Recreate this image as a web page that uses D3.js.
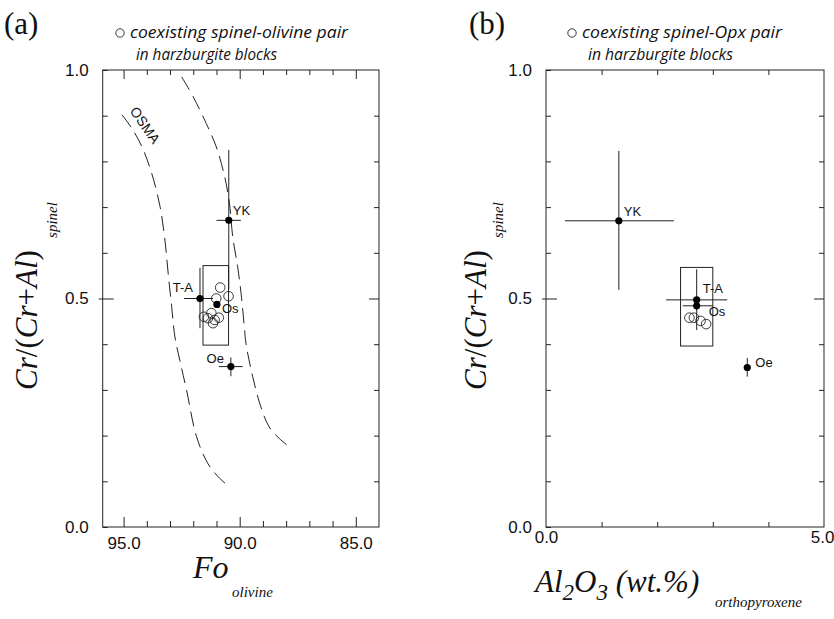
<!DOCTYPE html>
<html>
<head>
<meta charset="utf-8">
<script src="https://cdn.jsdelivr.net/npm/d3@7"></script>
<style>
  body { margin: 0; background: #fff; }
  svg { display: block; }
</style>
</head>
<body>
<svg id="chart" width="834" height="619"></svg>
<script>
// shared y axis: Cr/(Cr+Al) spinel
const crTicks = [0, 0.1, 0.2, 0.3, 0.4, 0.5, 0.6, 0.7, 0.8, 0.9, 1.0];
const crLabels = [0, 0.5, 1];

// panel (a) axis: Fo olivine
const foTicks = [95, 94, 93, 92, 91, 90, 89, 88, 87, 86, 85];
const foMajor = [95, 90, 85];

// panel (b) axis: Al2O3 opx
const alTicks = [1, 2, 3, 4];
const alLabels = [0, 5];

// panel (a) localities
const sitesA = ['YK', 'T-A', 'Os', 'Oe'];
const foA = [90.47, 91.71, 90.98, 90.38];
const crA = [0.671, 0.500, 0.487, 0.351];
const foErrA = [[91.0, 89.95], [92.4, 91.15], null, [90.9, 89.87]];
const crErrA = [[0.52, 0.825], [0.435, 0.567], null, [0.330, 0.371]];
const boxFoA = [91.58, 90.48];
const boxCrA = [0.398, 0.572];

// panel (a) spinel-olivine pairs
const pairFo = [90.84, 90.48, 91.01, 91.54, 91.22, 91.08, 90.90, 91.37, 91.15];
const pairCrA = [0.524, 0.505, 0.500, 0.460, 0.468, 0.453, 0.458, 0.457, 0.446];

// OSMA band (dashed)
const osmaInFo = [95.07, 94.64, 94.21, 93.79, 93.43, 93.22, 93.08, 92.93, 92.79, 92.58, 92.29, 91.86, 91.37, 90.87, 90.44];
const osmaInCr = [0.902, 0.872, 0.832, 0.774, 0.701, 0.628, 0.555, 0.482, 0.416, 0.365, 0.300, 0.198, 0.139, 0.107, 0.088];
const osmaOutFo = [92.50, 92.01, 91.44, 91.01, 90.65, 90.44, 90.30, 90.09, 89.94, 89.80, 89.73, 89.44, 89.09, 88.73, 88.30, 87.88];
const osmaOutCr = [0.985, 0.942, 0.883, 0.832, 0.767, 0.708, 0.635, 0.570, 0.511, 0.438, 0.402, 0.329, 0.263, 0.219, 0.194, 0.176];

// panel (b) localities
const sitesB = ['YK', 'T-A', 'Os', 'Oe'];
const alB = [1.31, 2.71, 2.71, 3.62];
const crB = [0.670, 0.497, 0.484, 0.349];
const alErrB = [[0.34, 2.30], [2.16, 3.26], [2.46, 3.0], null];
const crErrB = [[0.519, 0.823], [0.431, 0.564], null, [0.329, 0.370]];
const boxAlB = [2.42, 3.0];
const boxCrB = [0.396, 0.568];

// panel (b) spinel-opx pairs
const pairAl = [2.58, 2.66, 2.78, 2.88];
const pairCrB = [0.458, 0.458, 0.451, 0.444];

const svg = d3.select('#chart');
const sans = "'Liberation Sans', Arial, sans-serif";
const serif = "'Liberation Serif', 'Times New Roman', serif";
const ink = '#222';

const y = d3.scaleLinear().domain([0, 1]).range([527, 70]);
const xA = d3.scaleLinear().domain([95.9, 84.0]).range([102.7, 379]);
const xB = d3.scaleLinear().domain([0, 5]).range([546, 824]);

function frame(g, x) {
	const [x0, x1] = x.range();
	g.append('rect')
		.attr('x', x0).attr('y', y(1))
		.attr('width', x1 - x0).attr('height', y(0) - y(1))
		.attr('fill', 'none').attr('stroke', ink).attr('stroke-width', 1);
}

function styleAxis(a) {
	a.select('.domain').remove();
	a.selectAll('line').attr('stroke', ink);
	a.selectAll('text').attr('fill', '#111').style('font-family', sans).style('font-size', '17px');
}

function yAxes(g, x) {
	const [x0, x1] = x.range();
	const left = g.append('g').attr('transform', `translate(${x0},0)`)
		.call(d3.axisLeft(y).tickValues(crTicks).tickSize(-5).tickPadding(14)
			.tickFormat(d => crLabels.includes(d) ? d3.format('.1f')(d) : ''));
	left.selectAll('.tick').filter(d => d === 0.5).select('line').attr('x1', -4).attr('x2', 11);
	styleAxis(left);
	const right = g.append('g').attr('transform', `translate(${x1},0)`)
		.call(d3.axisRight(y).tickValues(crTicks.filter(d => d > 0 && d < 1)).tickSize(-5).tickFormat(''));
	right.selectAll('.tick').filter(d => d === 0.5).select('line').attr('x2', -10);
	styleAxis(right);
}

function marks(g, x, xs, ys, xErr, yErr, names, offs) {
	xs.forEach((v, i) => {
		if (xErr[i]) g.append('line')
			.attr('x1', x(xErr[i][0])).attr('x2', x(xErr[i][1]))
			.attr('y1', y(ys[i])).attr('y2', y(ys[i]))
			.attr('stroke', ink).attr('stroke-width', 1);
		if (yErr[i]) g.append('line')
			.attr('x1', x(v)).attr('x2', x(v))
			.attr('y1', y(yErr[i][0])).attr('y2', y(yErr[i][1]))
			.attr('stroke', ink).attr('stroke-width', 1);
	});
	g.selectAll('.site').data(xs).enter().append('circle')
		.attr('cx', d => x(d)).attr('cy', (d, i) => y(ys[i]))
		.attr('r', 3.6).attr('fill', '#000');
	g.selectAll('.siteLabel').data(names).enter().append('text')
		.attr('x', (d, i) => x(xs[i]) + offs[i][0])
		.attr('y', (d, i) => y(ys[i]) + offs[i][1])
		.attr('text-anchor', (d, i) => offs[i][2] || 'start')
		.style('font-family', sans).style('font-size', '13px').attr('fill', '#111')
		.text(d => d);
}

function pairs(g, x, xs, ys) {
	g.selectAll('.pair').data(xs).enter().append('circle')
		.attr('cx', d => x(d)).attr('cy', (d, i) => y(ys[i]))
		.attr('r', 4.8).attr('fill', 'none').attr('stroke', ink).attr('stroke-width', 0.9);
}

function box(g, x, bx, by) {
	g.append('rect')
		.attr('x', Math.min(x(bx[0]), x(bx[1]))).attr('y', y(by[1]))
		.attr('width', Math.abs(x(bx[1]) - x(bx[0]))).attr('height', y(by[0]) - y(by[1]))
		.attr('fill', 'none').attr('stroke', ink).attr('stroke-width', 1);
}

function legend(g, cx, label, w1, w2) {
	g.append('circle').attr('cx', cx).attr('cy', 33).attr('r', 4.2)
		.attr('fill', 'none').attr('stroke', ink).attr('stroke-width', 0.9);
	const t = g.append('text').style('font-family', "'Open Sans', sans-serif")
		.style('font-style', 'italic').style('font-size', '16px').attr('fill', '#111');
	t.append('tspan').attr('x', cx + 10).attr('y', 38).attr('textLength', w1)
		.attr('lengthAdjust', 'spacingAndGlyphs').text(label);
	t.append('tspan').attr('x', cx + 16).attr('y', 60).attr('textLength', w2)
		.attr('lengthAdjust', 'spacingAndGlyphs').text('in harzburgite blocks');
}

function yTitle(g, bx, sx) {
	const t = g.append('text')
		.attr('transform', `translate(${bx},320) rotate(-90)`)
		.attr('text-anchor', 'middle')
		.style('font-family', serif).style('font-size', '31px').attr('fill', '#111');
	t.append('tspan').style('font-style', 'italic').text('Cr');
	t.append('tspan').text('/(');
	t.append('tspan').style('font-style', 'italic').text('Cr');
	t.append('tspan').text('+');
	t.append('tspan').style('font-style', 'italic').text('Al');
	t.append('tspan').text(')');
	g.append('text')
		.attr('transform', `translate(${sx},220) rotate(-90)`)
		.attr('text-anchor', 'middle')
		.style('font-family', serif).style('font-style', 'italic').style('font-size', '15px')
		.attr('fill', '#111').text('spinel');
}

// ---------- panel (a)
const ga = svg.append('g');
frame(ga, xA);
yAxes(ga, xA);

const botA = ga.append('g').attr('transform', `translate(0,${y(0)})`)
	.call(d3.axisBottom(xA).tickValues(foTicks).tickSize(-6).tickPadding(10)
		.tickFormat(d => foMajor.includes(d) ? d3.format('.1f')(d) : ''));
botA.selectAll('.tick').filter(d => foMajor.includes(d)).select('line').attr('y2', -10);
styleAxis(botA);
const topA = ga.append('g').attr('transform', `translate(0,${y(1)})`)
	.call(d3.axisTop(xA).tickValues(foTicks).tickSize(-5).tickFormat(''));
topA.selectAll('.tick').filter(d => foMajor.includes(d)).select('line').attr('y2', 9);
styleAxis(topA);

const osmaLine = d3.line().x(d => xA(d[0])).y(d => y(d[1])).curve(d3.curveCatmullRom);
[[osmaInFo, osmaInCr], [osmaOutFo, osmaOutCr]].forEach(([fx, cy]) => {
	ga.append('path')
		.datum(fx.map((v, i) => [v, cy[i]]))
		.attr('d', osmaLine)
		.attr('fill', 'none').attr('stroke', ink).attr('stroke-width', 1)
		.attr('stroke-dasharray', '15,7');
});
ga.append('text')
	.attr('transform', 'translate(141,128) rotate(55)')
	.attr('text-anchor', 'middle')
	.style('font-family', sans).style('font-size', '14px').attr('fill', '#111')
	.text('OSMA');

box(ga, xA, boxFoA, boxCrA);
pairs(ga, xA, pairFo, pairCrA);
marks(ga, xA, foA, crA, foErrA, crErrA, sitesA,
	[[4, -5], [-7, -7, 'end'], [5, 9], [-7, -4, 'end']]);

ga.append('text').attr('x', 4).attr('y', 34)
	.style('font-family', serif).style('font-size', '31px').attr('fill', '#111').text('(a)');
legend(ga, 120, 'coexisting spinel-olivine pair', 218, 141);
yTitle(ga, 37, 57);

ga.append('text').attr('x', 193).attr('y', 578)
	.style('font-family', serif).style('font-style', 'italic').style('font-size', '32px')
	.attr('fill', '#111').text('Fo');
ga.append('text').attr('x', 232).attr('y', 597)
	.style('font-family', serif).style('font-style', 'italic').style('font-size', '15px')
	.attr('fill', '#111').text('olivine');

// ---------- panel (b)
const gb = svg.append('g');
frame(gb, xB);
yAxes(gb, xB);

const botB = gb.append('g').attr('transform', `translate(0,${y(0)})`)
	.call(d3.axisBottom(xB).tickValues(alLabels.concat(alTicks)).tickSize(-5).tickPadding(4)
		.tickFormat(d => alLabels.includes(d) ? d3.format('.1f')(d) : ''));
botB.selectAll('.tick').filter(d => alLabels.includes(d)).select('line').remove();
styleAxis(botB);
// keep the last label inside the page
botB.selectAll('.tick').filter(d => d === 5).select('text')
	.attr('text-anchor', 'end').attr('x', 834 - xB(5));
const topB = gb.append('g').attr('transform', `translate(0,${y(1)})`)
	.call(d3.axisTop(xB).tickValues(alTicks).tickSize(-5).tickFormat(''));
styleAxis(topB);

box(gb, xB, boxAlB, boxCrB);
pairs(gb, xB, pairAl, pairCrB);
marks(gb, xB, alB, crB, alErrB, crErrB, sitesB,
	[[5, -5], [6, -7], [12, 10], [8, -1]]);

gb.append('text').attr('x', 469).attr('y', 34)
	.style('font-family', serif).style('font-size', '31px').attr('fill', '#111').text('(b)');
legend(gb, 572, 'coexisting spinel-Opx pair', 200, 145);
yTitle(gb, 486, 503);

const alTitle = gb.append('text').attr('x', 535).attr('y', 592)
	.style('font-family', serif).style('font-style', 'italic').style('font-size', '31px')
	.attr('fill', '#111');
alTitle.append('tspan').text('Al');
alTitle.append('tspan').attr('dy', 8).style('font-size', '23px').text('2');
alTitle.append('tspan').attr('dy', -8).text('O');
alTitle.append('tspan').attr('dy', 8).style('font-size', '23px').text('3');
alTitle.append('tspan').attr('dy', -8).text(' (wt.%)');
gb.append('text').attr('x', 715).attr('y', 607)
	.style('font-family', serif).style('font-style', 'italic').style('font-size', '15px')
	.attr('fill', '#111').text('orthopyroxene');
</script>
</body>
</html>
